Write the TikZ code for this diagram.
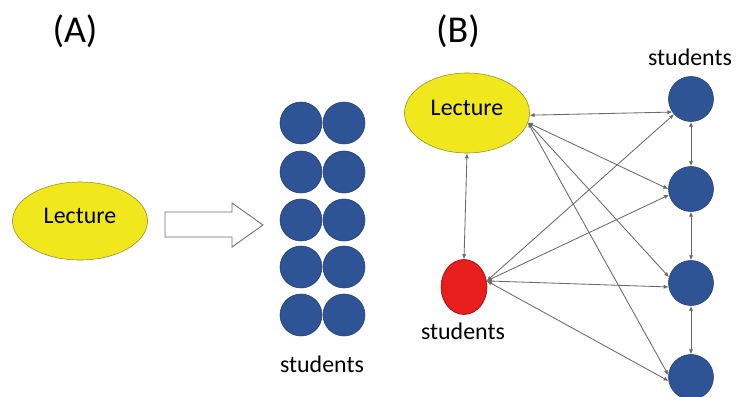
\documentclass[tikz,border=0pt]{standalone}
\usepackage{fontspec}
\setmainfont{Carlito}
\usetikzlibrary{arrows.meta,shapes.geometric}
\definecolor{lecyellow}{RGB}{240,232,28}
\definecolor{lecline}{RGB}{150,140,40}
\definecolor{stublue}{RGB}{47,84,150}
\definecolor{stuline}{RGB}{35,62,115}
\definecolor{stured}{RGB}{232,30,30}
\definecolor{linkgray}{RGB}{105,105,105}
\begin{document}
\begin{tikzpicture}[x=0.025cm,y=-0.025cm]
    \tikzset{lecture/.style = {shape=ellipse,draw=lecline,fill=lecyellow,inner sep=0pt,font=\fontsize{17}{20}\selectfont}}
    \tikzset{pupil/.style = {shape=circle,draw=stuline,fill=stublue,inner sep=0pt,minimum size=1.05cm}}
    \tikzset{link/.style = {<->,>={Latex[length=3.5pt,width=3pt]},draw=linkgray,line width=0.6pt}}
    \tikzset{caption/.style = {font=\fontsize{17}{20}\selectfont}}
    \tikzset{panel/.style = {font=\fontsize{27}{32}\selectfont}}
    \useasboundingbox (0,0) rectangle (737,396);
    \clip (0,0) rectangle (737,396);
    % (A) one-way lecture
    \node[panel] (pA) at (75,31) {(A)};
    \node[lecture,minimum width=3.375cm,minimum height=1.95cm] (lecA) at (80,221) {\raisebox{0.25cm}{Lecture}};
    \draw[draw=gray!85!black,fill=white,line width=0.6pt] (165,212) -- (232,212) -- (232,203) -- (263,225)
        -- (232,247) -- (232,237) -- (165,237) -- cycle;
    \foreach \y [count=\i] in {123,172,220,267,315} {
        \node[pupil] (a\i) at (301,\y) {};
        \node[pupil] (b\i) at (344,\y) {};
    }
    \node[caption] (sA) at (322,364) {students};
    % (B) interactive lecture
    \node[panel] (pB) at (458,31) {(B)};
    \node[lecture,minimum width=3.125cm,minimum height=2cm] (lecB) at (467,113) {\raisebox{0.25cm}{Lecture}};
    \node[shape=ellipse,draw=red!60!black,fill=stured,inner sep=0pt,minimum width=1.15cm,minimum height=1.375cm] (red) at (464,287) {};
    \node[caption] (sR) at (463,331) {students};
    \foreach \y [count=\i] in {99,189,283,377}
        \node[pupil,minimum size=1.125cm] (s\i) at (691,\y) {};
    \node[caption] (sB) at (690,57) {students};
    \draw[link] (lecB.south) -- (red.north);
    \draw[link] (lecB.-2) -- (s1.215);
    \draw[link] (lecB.-9) -- (s2.180);
    \draw[link] (lecB.-9) -- (s3.165);
    \draw[link] (lecB.-9) -- (s4.175);
    \draw[link] (red.15) -- (s1.222);
    \draw[link] (red.15) -- (s2.195);
    \draw[link] (red.15) -- (s3.190);
    \draw[link] (red.15) -- (s4.190);
    \draw[link] (s1.south) -- (s2.north);
    \draw[link] (s2.south) -- (s3.north);
    \draw[link] (s3.south) -- (s4.north);
\end{tikzpicture}
\end{document}
